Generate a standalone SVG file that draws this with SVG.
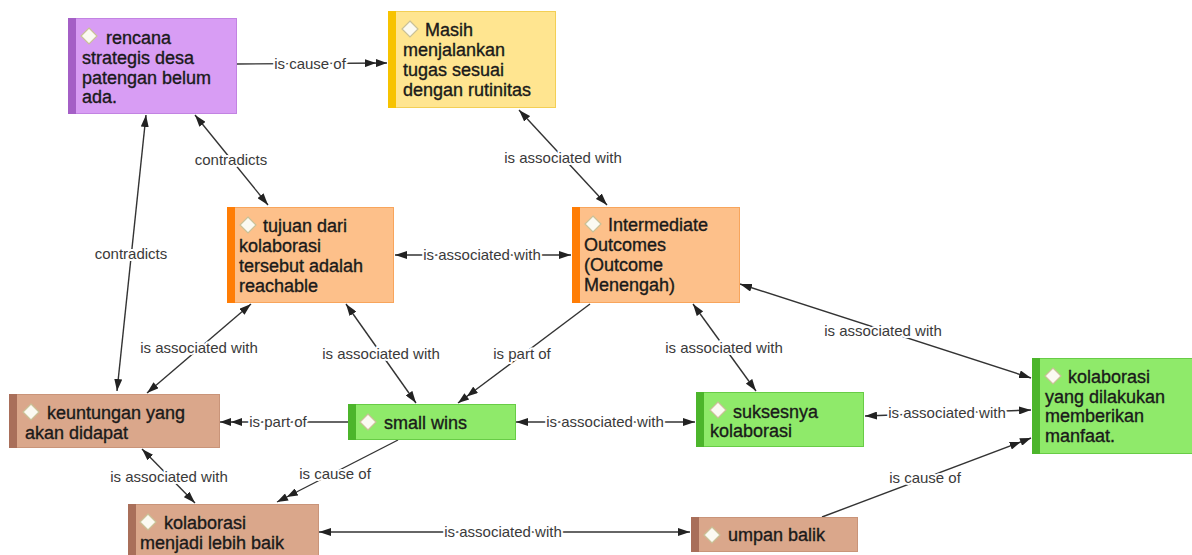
<svg xmlns="http://www.w3.org/2000/svg" width="1192" height="555" viewBox="0 0 1192 555">
<style>
.nt{font-family:"Liberation Sans",Arial,sans-serif;font-size:18px;fill:#1a1a1a;stroke:#1a1a1a;stroke-width:0.35px}
.lb{font-family:"Liberation Sans",Arial,sans-serif;font-size:15px;fill:#3a3a3a;text-anchor:middle;stroke:#fff;stroke-width:4px;stroke-linejoin:round;paint-order:stroke}
.e{stroke:#333;stroke-width:1.4;fill:none}
.b1{marker-start:url(#a);marker-end:url(#a)}
.c1{marker-end:url(#aa)}
.pu{fill:#d89df4;stroke:#c283e2}.pub{fill:#a45fc6}
.ye{fill:#ffe590;stroke:#f3cf55}.yeb{fill:#f7c300}
.or{fill:#fdc08a;stroke:#f8a55c}.orb{fill:#ff7d05}
.ta{fill:#daa78b;stroke:#c99479}.tab{fill:#a96f5a}
.gr{fill:#8fea6a;stroke:#68cc46}.grb{fill:#4cb52b}
.dm{fill:#fbfaf2;stroke:#c9c197;stroke-width:1.2}
</style>
<defs>
<marker id="a" viewBox="0 0 12 8" refX="12" refY="4" markerWidth="12" markerHeight="8" markerUnits="userSpaceOnUse" orient="auto-start-reverse"><path d="M0,0 L12,4 L0,8 Z" fill="#222"/></marker>
<marker id="aa" viewBox="0 0 22 8" refX="22" refY="4" markerWidth="22" markerHeight="8" markerUnits="userSpaceOnUse" orient="auto"><path d="M0,0 L11,4 L0,8 Z M11,0 L22,4 L11,8 Z" fill="#222"/></marker>
<path id="dia" d="M0,-8 L8,0 L0,8 L-8,0 Z"/>
</defs>
<rect width="1192" height="555" fill="#fff"/>

<g id="connectors">
<path class="e c1" d="M236,64 L387,63"/>
<text class="lb" x="310" y="69">is cause of</text>

<path class="e b1" d="M519,110 L607,205"/>
<text class="lb" x="563" y="163">is associated with</text>

<path class="e b1" d="M195,115 L268,205"/>
<text class="lb" x="231" y="165">contradicts</text>

<path class="e b1" d="M146,115 L117,391"/>
<text class="lb" x="131" y="259">contradicts</text>

<path class="e b1" d="M395,255 L571,255"/>
<text class="lb" x="482" y="260">is associated with</text>

<path class="e b1" d="M251,304 L147,393"/>
<text class="lb" x="199" y="353">is associated with</text>

<path class="e b1" d="M346,304 L416,403"/>
<text class="lb" x="381" y="359">is associated with</text>

<path class="e c1" d="M590,304 L458,403"/>
<text class="lb" x="522" y="359">is part of</text>

<path class="e b1" d="M693,304 L756,391"/>
<text class="lb" x="724" y="353">is associated with</text>

<path class="e b1" d="M740,284 L1031,378"/>
<text class="lb" x="883" y="336">is associated with</text>

<path class="e c1" d="M348,422 L220,422"/>
<text class="lb" x="278" y="427">is part of</text>

<path class="e b1" d="M516,422 L695,422"/>
<text class="lb" x="605" y="427">is associated with</text>

<path class="e b1" d="M865,416 L1031,410"/>
<text class="lb" x="947" y="418">is associated with</text>

<path class="e c1" d="M398,440 L277,502"/>
<text class="lb" x="335" y="479">is cause of</text>

<path class="e b1" d="M142,449 L195,503"/>
<text class="lb" x="169" y="482">is associated with</text>

<path class="e b1" d="M319,532 L690,532"/>
<text class="lb" x="503" y="537">is associated with</text>

<path class="e c1" d="M822,517 L1031,438"/>
<text class="lb" x="925" y="483">is cause of</text>
</g>

<g id="n1">
<rect class="pu" x="68.5" y="18.5" width="168" height="95"/>
<rect class="pub" x="68" y="18" width="8" height="96"/>
<use href="#dia" class="dm" x="89" y="36"/>
<text class="nt"><tspan x="106" y="44">rencana</tspan><tspan x="82" y="64">strategis desa</tspan><tspan x="82" y="83.5">patengan belum</tspan><tspan x="82" y="103">ada.</tspan></text>
</g>

<g id="n2">
<rect class="ye" x="388.5" y="11.5" width="167" height="96"/>
<rect class="yeb" x="388" y="11" width="8" height="97"/>
<use href="#dia" class="dm" x="410" y="29"/>
<text class="nt"><tspan x="425" y="36">Masih</tspan><tspan x="403" y="56">menjalankan</tspan><tspan x="403" y="76">tugas sesuai</tspan><tspan x="403" y="96">dengan rutinitas</tspan></text>
</g>

<g id="n3">
<rect class="or" x="227.5" y="207.5" width="166" height="95"/>
<rect class="orb" x="227" y="207" width="8" height="96"/>
<use href="#dia" class="dm" x="248" y="225"/>
<text class="nt"><tspan x="263" y="232">tujuan dari</tspan><tspan x="239" y="252">kolaborasi</tspan><tspan x="239" y="272">tersebut adalah</tspan><tspan x="239" y="292">reachable</tspan></text>
</g>

<g id="n4">
<rect class="or" x="572.5" y="207.5" width="167" height="95"/>
<rect class="orb" x="572" y="207" width="8" height="96"/>
<use href="#dia" class="dm" x="593" y="224"/>
<text class="nt"><tspan x="608" y="231">Intermediate</tspan><tspan x="584" y="251">Outcomes</tspan><tspan x="584" y="271">(Outcome</tspan><tspan x="584" y="291">Menengah)</tspan></text>
</g>

<g id="n5">
<rect class="ta" x="9.5" y="394.5" width="210" height="53"/>
<rect class="tab" x="9" y="394" width="8" height="54"/>
<use href="#dia" class="dm" x="31" y="412"/>
<text class="nt"><tspan x="47" y="419">keuntungan yang</tspan><tspan x="25" y="439">akan didapat</tspan></text>
</g>

<g id="n6">
<rect class="gr" x="348.5" y="404.5" width="167" height="35"/>
<rect class="grb" x="348" y="404" width="8" height="36"/>
<use href="#dia" class="dm" x="368" y="422"/>
<text class="nt" x="384" y="429">small wins</text>
</g>

<g id="n7">
<rect class="gr" x="696.5" y="392.5" width="167" height="54"/>
<rect class="grb" x="696" y="392" width="8" height="55"/>
<use href="#dia" class="dm" x="718" y="410"/>
<text class="nt"><tspan x="733" y="418">suksesnya</tspan><tspan x="710" y="437">kolaborasi</tspan></text>
</g>

<g id="n8">
<rect class="gr" x="1032.5" y="358.5" width="165" height="95"/>
<rect class="grb" x="1032" y="358" width="8" height="96"/>
<use href="#dia" class="dm" x="1053" y="376"/>
<text class="nt"><tspan x="1068" y="383">kolaborasi</tspan><tspan x="1045" y="403">yang dilakukan</tspan><tspan x="1045" y="422">memberikan</tspan><tspan x="1045" y="442">manfaat.</tspan></text>
</g>

<g id="n9">
<rect class="ta" x="128.5" y="504.5" width="190" height="60"/>
<rect class="tab" x="128" y="504" width="8" height="61"/>
<use href="#dia" class="dm" x="148" y="522"/>
<text class="nt"><tspan x="164" y="529">kolaborasi</tspan><tspan x="140" y="549">menjadi lebih baik</tspan></text>
</g>

<g id="n10">
<rect class="ta" x="691.5" y="517.5" width="166" height="34"/>
<rect class="tab" x="691" y="517" width="8" height="35"/>
<use href="#dia" class="dm" x="712" y="535"/>
<text class="nt" x="728" y="541">umpan balik</text>
</g>
</svg>
